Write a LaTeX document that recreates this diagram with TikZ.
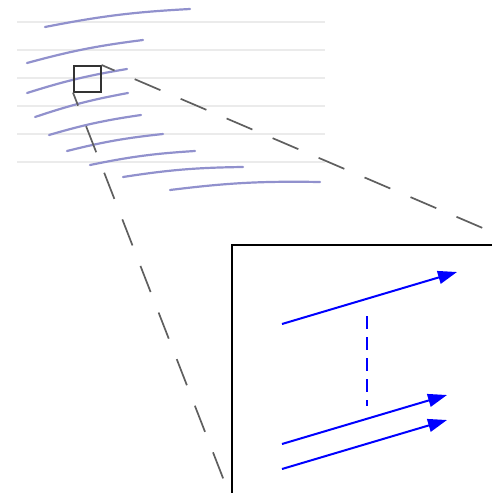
\documentclass[tikz,border=0pt]{standalone}
\usetikzlibrary{arrows.meta}
\definecolor{strand}{RGB}{145,145,205}
\definecolor{zoomgray}{RGB}{95,95,95}
\begin{document}
\begin{tikzpicture}[
  x=1pt,
  y=-1pt,
  guide/.style={draw=black!8, line width=1.6pt},
  strandline/.style={draw=strand, line width=2.2pt, line cap=round},
  zoombox/.style={
    rectangle,
    draw=black!80,
    line width=1.6pt,
    minimum width=27pt,
    minimum height=26pt,
    inner sep=0pt,
    anchor=north west
  },
  zoomline/.style={
    draw=zoomgray,
    line width=1.7pt,
    dash pattern=on 28pt off 22pt,
    dash phase=14pt
  },
  vec/.style={
    draw=blue,
    line width=2pt,
    -{Triangle[length=19pt,width=13pt]}
  },
  gap/.style={draw=blue, line width=2.2pt, dash pattern=on 13pt off 8pt}
]
\useasboundingbox (0,0) rectangle (492,493);
\clip (0,0) rectangle (492,493);

% Overview: faint rows with the lavender strands on top.
\foreach \y in {22,50,78,106,134,162}
  \draw[guide] (17,\y) -- (325,\y);

\foreach \xa/\ya/\xb/\yb in {45/27/190/9, 27/63/143/40, 27/93/127/69,
    35/117/128/93, 49/135/141/115, 67/151/163/134, 90/165/195/151,
    123/177/243/167, 170/190/320/182}
  \draw[strandline] (\xa,\ya) to[bend left=4] (\xb,\yb);

% Magnified spot and the inset it points to.
\node[zoombox] (spot) at (73,65) {};

\coordinate (insetNW) at (232,245);
\coordinate (insetSW) at (232,500);
\coordinate (insetNE) at (500,245);
\coordinate (farA) at (492,232);
\coordinate (farB) at (230,496);

\draw[black, line width=1.3pt] (insetSW) -- (insetNW) -- (insetNE);

\draw[zoomline] (spot.north east) -- (farA);
\draw[zoomline] (spot.south west) -- (farB);

% Inset content: two near strands and one far strand.
\coordinate (p1) at (282,324);
\coordinate (q1) at (457,272);
\coordinate (p2) at (282,444);
\coordinate (q2) at (447,395);
\coordinate (p3) at (282,469);
\coordinate (q3) at (447,420);
\coordinate (g1) at (367,316);
\coordinate (g2) at (367,406);

\draw[vec] (p1) -- (q1);
\draw[vec] (p2) -- (q2);
\draw[vec] (p3) -- (q3);
\draw[gap] (g1) -- (g2);

\end{tikzpicture}
\end{document}
